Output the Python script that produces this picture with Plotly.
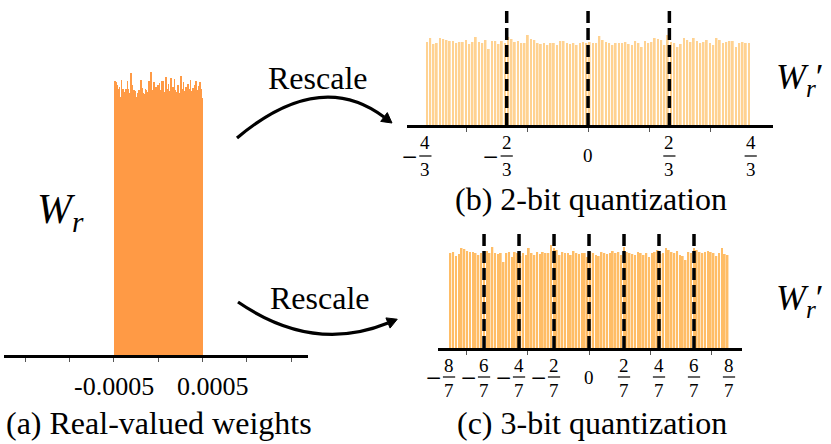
import numpy as np
import plotly.graph_objects as go

W, H = 831, 444

# (a) real-valued weights: histogram counts over [-0.0005, 0.0005]
real_lo, real_hi = -0.0005, 0.0005
real_counts = [262, 274, 273, 270, 266, 262, 268, 258, 275, 262, 266, 259, 263, 266, 257,
               274, 266, 262, 257, 282, 270, 258, 265, 264, 258, 258, 257, 262, 265, 263,
               275, 267, 258, 262, 261, 266, 265, 263, 258, 274, 267, 283, 267, 265, 272,
               273, 263, 268, 267, 270, 265, 272, 265, 265, 274, 274, 257, 263, 278, 260,
               266, 271, 262, 264, 277, 259, 268, 262, 276, 265, 260, 263, 270, 262, 258,
               279, 266, 260, 273, 264, 259, 268, 262, 271, 263, 266, 275, 264, 258, 267,
               261, 270, 274, 262, 265, 269, 260, 273, 266, 257]
real_ticks = [-0.0015, -0.001, -0.0005, 0, 0.0005, 0.001, 0.0015]
real_label_vals = [-0.0005, 0.0005]
real_labels = ["-0.0005", "0.0005"]

# (b) 2-bit quantization
q2_lo, q2_hi = -4 / 3, 4 / 3
q2_counts = [83, 87, 81, 82, 87, 86, 85, 84, 84, 82, 83, 83, 85, 81, 83, 88, 83, 82, 85, 76,
             84, 84, 81, 84, 82, 88, 86, 83, 84, 82, 82, 90, 86, 85, 82, 81, 82, 80, 82, 82,
             80, 84, 84, 82, 81, 82, 80, 82, 83, 82,
             83, 82, 82, 89, 85, 83, 82, 80, 82, 82, 82, 83, 81, 80, 84, 82, 78, 84, 82, 83,
             87, 86, 85, 80, 90, 83, 82, 78, 81, 87, 85, 83, 87, 84, 82, 83, 85, 82, 80, 87,
             85, 82, 83, 84, 84, 78, 82, 83, 82, 82]
q2_levels = [-2 / 3, 0, 2 / 3]
q2_tick_vals = [-4 / 3, -2 / 3, 0, 2 / 3, 4 / 3]
q2_tick_sign = ["−", "−", "", "", ""]
q2_tick_num = ["4", "2", "0", "2", "4"]
q2_tick_den = ["3", "3", "", "3", "3"]

# (c) 3-bit quantization
q3_lo, q3_hi = -8 / 7, 8 / 7
q3_counts = [95, 96, 92, 94, 100, 99, 97, 96, 96, 95, 93, 95, 95, 97, 95, 101, 95, 94, 95, 86,
             95, 96, 91, 96, 95, 92, 95, 93, 100, 95, 93, 96, 94, 96, 95, 95, 103, 100, 98, 93,
             96, 95, 95, 93, 97, 95, 94, 95, 95, 91,
             96, 95, 93, 92, 96, 95, 94, 95, 97, 95, 96, 93, 101, 96, 95, 94, 93, 96, 95, 93,
             95, 91, 95, 96, 98, 94, 95, 100, 98, 96, 95, 97, 93, 92, 88, 96, 95, 100, 98, 96,
             95, 96, 97, 96, 95, 92, 95, 100, 94, 93]
q3_levels = [-6 / 7, -4 / 7, -2 / 7, 0, 2 / 7, 4 / 7, 6 / 7]
q3_tick_vals = [-8 / 7, -6 / 7, -4 / 7, -2 / 7, 0, 2 / 7, 4 / 7, 6 / 7, 8 / 7]
q3_tick_sign = ["−", "−", "−", "−", "", "", "", "", ""]
q3_tick_num = ["8", "6", "4", "2", "0", "2", "4", "6", "8"]
q3_tick_den = ["7", "7", "7", "7", "", "7", "7", "7", "7"]

quant_ticks = [-1, -0.5, 0, 0.5, 1]

SERIF = "Liberation Serif"


def px(x):
    return x / W


def py(y):
    return 1 - y / H


def bins(lo, hi, n):
    step = (hi - lo) / n
    return lo + step * (np.arange(n) + 0.5), step


def label(text, x, y, size, xref="paper", xshift=0):
    fig.add_annotation(x=x, y=py(y), xref=xref, yref="paper", text=text, xshift=xshift,
                       xanchor="center", yanchor="middle", showarrow=False,
                       font=dict(size=size))


fig = go.Figure()

for counts, lo, hi, color, gap, ax in [
    (real_counts, real_lo, real_hi, "#FF9A45", 0.25, ""),
    (q2_counts, q2_lo, q2_hi, "#FFD291", 0.45, "2"),
    (q3_counts, q3_lo, q3_hi, "#FFBD66", 0.4, "3"),
]:
    centers, step = bins(lo, hi, len(counts))
    fig.add_trace(go.Bar(
        x=centers, y=counts, width=step * (1 - gap),
        marker=dict(color=color, line_width=0),
        xaxis="x" + ax, yaxis="y" + ax, hoverinfo="skip",
    ))

axis_common = dict(
    showline=True, linewidth=2.5, linecolor="black", showgrid=False, zeroline=False,
    ticks="outside", ticklen=4, tickwidth=1, tickcolor="#555", showticklabels=False,
)

fig.update_layout(
    width=W, height=H, autosize=False,
    margin=dict(l=0, r=0, t=0, b=0),
    paper_bgcolor="white", plot_bgcolor="white",
    showlegend=False,
    font=dict(family=SERIF, color="black"),
    xaxis=dict(domain=[px(4), px(308)], range=[-0.00174, 0.00169], anchor="y",
               tickvals=real_ticks, **axis_common),
    yaxis=dict(domain=[py(355), py(60)], range=[0, 295], visible=False),
    xaxis2=dict(domain=[px(407), px(773)], range=[-1.484, 1.516], anchor="y2",
                tickvals=quant_ticks, **axis_common),
    yaxis2=dict(domain=[py(125), py(5)], range=[0, 120], visible=False),
    xaxis3=dict(domain=[px(438), px(742)], range=[-1.233, 1.249], anchor="y3",
                tickvals=quant_ticks, **axis_common),
    yaxis3=dict(domain=[py(348), py(228)], range=[0, 120], visible=False),
)

# quantization thresholds (dashed)
for levels, ax, top in [(q2_levels, "2", 0.985), (q3_levels, "3", 0.967)]:
    for v in levels:
        fig.add_shape(type="line", xref="x" + ax, yref="y" + ax + " domain",
                      x0=v, x1=v, y0=0, y1=top, layer="above",
                      line=dict(color="black", width=3.5, dash="12px,5px"))

# stacked fraction tick labels
for vals, signs, nums, dens, ax, ynum, ybar, yden in [
    (q2_tick_vals, q2_tick_sign, q2_tick_num, q2_tick_den, "x2", 142, 156, 169),
    (q3_tick_vals, q3_tick_sign, q3_tick_num, q3_tick_den, "x3", 365, 377, 390),
]:
    for v, s, n, d in zip(vals, signs, nums, dens):
        if not d:
            label(n, v, ybar, 19, xref=ax)
            continue
        label(n, v, ynum, 19, xref=ax)
        label(d, v, yden, 19, xref=ax)
        fig.add_shape(type="line", xref=ax, yref="paper", x0=v - 0.05, x1=v + 0.05,
                      y0=py(ybar), y1=py(ybar), line=dict(color="black", width=1.2))
        if s:
            label(s, v, ybar + 1, 27, xref=ax, xshift=-16)

# (a) tick labels
for v, t, shift in zip(real_label_vals, real_labels, [0, 10]):
    label(t, v, 386, 26, xref="x", xshift=shift)


def curved_arrow(p0, c, p2):
    d = np.array(p2, float) - np.array(c, float)
    u = d / np.hypot(*d)
    n = np.array([-u[1], u[0]])
    tip = np.array(p2) + u * 10
    b1 = np.array(p2) + n * 5.5
    b2 = np.array(p2) - n * 5.5
    fig.add_shape(type="path", xref="paper", yref="paper",
                  path=f"M {px(p0[0])},{py(p0[1])} Q {px(c[0])},{py(c[1])} {px(p2[0])},{py(p2[1])}",
                  line=dict(color="black", width=3.2))
    fig.add_shape(type="path", xref="paper", yref="paper",
                  path=f"M {px(tip[0])},{py(tip[1])} L {px(b1[0])},{py(b1[1])} "
                       f"L {px(b2[0])},{py(b2[1])} Z",
                  fillcolor="black", line=dict(color="black", width=1))


curved_arrow((237, 138), (319.5, 68.5), (384, 117))
curved_arrow((238, 302), (313, 353.5), (388, 323))

texts = [
    ("Rescale", 318, 78, 32),
    ("Rescale", 320, 298, 32),
    ("(a) Real-valued weights", 159, 423, 32),
    ("(b) 2-bit quantization", 591, 199, 32),
    ("(c) 3-bit quantization", 592, 423, 32),
    ("<i>W<sub>r</sub></i>", 60, 212, 42),
    ("<i>W<sub>r</sub></i>′", 800, 80, 36),
    ("<i>W<sub>r</sub></i>′", 800, 300, 36),
]
for t, x, y, s in texts:
    label(t, px(x), y, s)

fig.write_html("out.html", config={"displayModeBar": False},
               post_script="document.body.style.margin = '0';")
